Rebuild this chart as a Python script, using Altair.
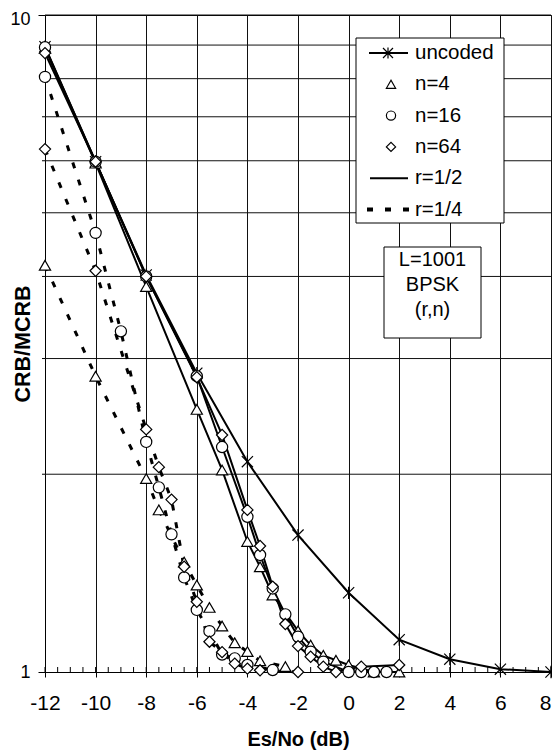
import altair as alt
import pandas as pd

W, H = 506, 657

# ---------------- data ----------------
unc_x = [-12, -10, -8, -6, -4, -2, 0, 2, 4, 6, 8]
unc_y = [8.95, 5.98, 4.02, 2.85, 2.09, 1.616, 1.32, 1.12, 1.046, 1.01, 1.0]

r2_n4_x = [-12, -10, -8, -6, -5, -4, -3.5, -3, -2, -1.5, -1, -0.5, 0, 1, 2]
r2_n4_y = [8.9, 5.95, 3.86, 2.51, 2.03, 1.58, 1.446, 1.31, 1.155, 1.099, 1.06, 1.042, 1.025, 1.0, 1.0]

r2_n16_x = [-12, -10, -8, -6, -5, -4, -3.5, -3, -2.5, -2, -1.5, -1, 0, 0.5, 1, 1.5]
r2_n16_y = [8.93, 5.98, 4.0, 2.82, 2.20, 1.723, 1.507, 1.34, 1.224, 1.132, 1.074, 1.037, 1.0, 1.0, 1.0, 1.0]

r2_n64_x = [-12, -10, -8, -6, -5, -4, -3.5, -3, -2.5, -2, -1.5, -1, -0.5, 0.5, 2]
r2_n64_y = [8.75, 5.98, 4.0, 2.81, 2.295, 1.765, 1.555, 1.349, 1.183, 1.095, 1.055, 1.019, 1.0, 1.019, 1.025]

r4_n4_x = [-12, -10, -8, -7.5, -6.5, -6, -5.5, -5, -4.5, -4, -3.5, -2.5]
r4_n4_y = [4.16, 2.82, 1.97, 1.765, 1.47, 1.356, 1.254, 1.175, 1.108, 1.074, 1.04, 1.019]

r4_n16_x = [-12, -10, -9, -8, -7.5, -7, -6.5, -6, -5.5, -5, -4.5, -4, -3]
r4_n16_y = [8.05, 4.66, 3.30, 2.24, 1.91, 1.62, 1.393, 1.243, 1.154, 1.063, 1.049, 1.025, 1.007]

r4_n64_x = [-12, -10, -8, -7.5, -7, -6.5, -6, -5.5, -5, -4.5, -4, -3.5, -2]
r4_n64_y = [6.25, 4.08, 2.34, 2.05, 1.83, 1.446, 1.279, 1.112, 1.072, 1.03, 1.012, 1.006, 1.0]

x_major = [-12, -10, -8, -6, -4, -2, 0, 2, 4, 6, 8]
x_minor = [v / 2 for v in range(-24, 17)]
y_labels = [1, 10]
y_grid = [2, 3, 4, 5, 6, 7, 8, 9, 10]
y_minor = [2, 3, 4, 5, 6, 7, 8, 9]

legend_labels = ["uncoded", "n=4", "n=16", "n=64", "r=1/2", "r=1/4"]
box_lines = ["L=1001", "BPSK", "(r,n)"]

series = [
    ("uncoded", "u", "u", unc_x, unc_y),
    ("r2n4", "1/2", "4", r2_n4_x, r2_n4_y),
    ("r2n16", "1/2", "16", r2_n16_x, r2_n16_y),
    ("r2n64", "1/2", "64", r2_n64_x, r2_n64_y),
    ("r4n4", "1/4", "4", r4_n4_x, r4_n4_y),
    ("r4n16", "1/4", "16", r4_n16_x, r4_n16_y),
    ("r4n64", "1/4", "64", r4_n64_x, r4_n64_y),
]
rows = []
for name, r, n, xs, ys in series:
    for xv, yv in zip(xs, ys):
        rows.append({"series": name, "r": r, "n": n, "x": xv, "y": yv})
df = pd.DataFrame(rows)

STAR = "M-1,-1L1,1M-1,1L1,-1M0,-1.1L0,1.1"
FONT = "Liberation Sans"
GRID = "#111"

xscale = alt.Scale(domain=[-12, 8], nice=False, zero=False)
yscale = alt.Scale(type="log", domain=[1, 10], nice=False)

X = alt.X("x:Q", scale=xscale, axis=alt.Axis(
    values=x_major, grid=True, gridColor=GRID, gridWidth=1, tickSize=5,
    tickColor="black", domainColor="black", labelFontSize=21, labelColor="black",
    labelBaseline="alphabetic", labelPadding=32, labelExpr="'' + datum.value",
    labelAlign={"condition": {"test": "datum.value == 8", "value": "right"}, "value": "center"},
    labelFlush=False, title="Es/No (dB)", titleFontSize=20, titleFontWeight="bold",
    titleColor="black", titleX=W / 2, titleY=73, titleBaseline="alphabetic"))
Y = alt.Y("y:Q", scale=yscale, axis=alt.Axis(
    values=y_labels, grid=False, tickSize=7, tickColor="black", domainColor="black",
    labelFontSize=18, labelColor="black", labelPadding=8, labelExpr="'' + datum.value",
    labelBaseline="alphabetic",
    labelOffset={"condition": {"test": "datum.value == 10", "value": 9.5}, "value": 5},
    labelFlush=False, title="CRB/MCRB", titleFontSize=21.5, titleFontWeight="bold",
    titleColor="black", titleX=-16, titleY=H / 2, titleBaseline="alphabetic"))

base = alt.Chart(df)

hgrid = alt.Chart(pd.DataFrame({"y": y_grid})).mark_rule(color=GRID, strokeWidth=1).encode(
    y=alt.Y("y:Q", scale=yscale), x=alt.value(0), x2=alt.value(W))
yminor = alt.Chart(pd.DataFrame({"y": y_minor})).mark_rule(color="black", strokeWidth=1).encode(
    y=alt.Y("y:Q", scale=yscale), x=alt.value(-3), x2=alt.value(0))
xminor = alt.Chart(pd.DataFrame({"x": x_minor})).mark_rule(color="black", strokeWidth=1).encode(
    x=alt.X("x:Q", scale=xscale), y=alt.value(H - 5), y2=alt.value(H))

line_unc = base.transform_filter("datum.r == 'u'").mark_line(color="black", strokeWidth=2).encode(
    x=X, y=Y, detail="series:N")
line_r2 = base.transform_filter("datum.r == '1/2'").mark_line(color="black", strokeWidth=2).encode(
    x=alt.X("x:Q", scale=xscale), y=alt.Y("y:Q", scale=yscale), detail="series:N")
line_r4 = base.transform_filter("datum.r == '1/4'").mark_line(
    color="black", strokeWidth=3, strokeDash=[6, 12]).encode(
    x=alt.X("x:Q", scale=xscale), y=alt.Y("y:Q", scale=yscale), detail="series:N")

pts = base.mark_point(filled=True, fill="white", stroke="black", strokeWidth=1.2,
                      size=125, opacity=1).encode(
    x=alt.X("x:Q", scale=xscale), y=alt.Y("y:Q", scale=yscale),
    shape=alt.Shape("n:N", scale=alt.Scale(domain=["u", "4", "16", "64"],
                                            range=[STAR, "triangle-up", "circle", "diamond"]),
                    legend=None))

one = pd.DataFrame({"a": [0]})
legend_layers = [
    alt.Chart(one).mark_rect(fill="white", stroke="black", strokeWidth=1).encode(
        x=alt.value(311), x2=alt.value(459), y=alt.value(23), y2=alt.value(208)),
    alt.Chart(one).mark_rect(fill="white", stroke="black", strokeWidth=1).encode(
        x=alt.value(339), x2=alt.value(436), y=alt.value(232), y2=alt.value(323)),
]
ly0, ldy = 38, 31.3
legend_layers.append(alt.Chart(one).mark_rule(color="black", strokeWidth=2).encode(
    x=alt.value(324), x2=alt.value(363), y=alt.value(ly0)))
legend_layers.append(alt.Chart(one).mark_point(shape=STAR, stroke="black", strokeWidth=1.2,
                                               size=100, opacity=1).encode(
    x=alt.value(343), y=alt.value(ly0)))
for i, shp in [(1, "triangle-up"), (2, "circle"), (3, "diamond")]:
    legend_layers.append(alt.Chart(one).mark_point(shape=shp, filled=True, fill="white",
                                                   stroke="black", strokeWidth=1.2,
                                                   size=85, opacity=1).encode(
        x=alt.value(346), y=alt.value(ly0 + i * ldy)))
legend_layers.append(alt.Chart(one).mark_rule(color="black", strokeWidth=2).encode(
    x=alt.value(325), x2=alt.value(363), y=alt.value(ly0 + 4 * ldy)))
legend_layers.append(alt.Chart(one).mark_rule(color="black", strokeWidth=4, strokeDash=[6, 12]).encode(
    x=alt.value(322), x2=alt.value(368), y=alt.value(ly0 + 5 * ldy)))
for i, lab in enumerate(legend_labels):
    legend_layers.append(alt.Chart(one).mark_text(
        text=lab, align="left", baseline="middle", fontSize=20.5, font=FONT, color="black").encode(
        x=alt.value(370), y=alt.value(ly0 + i * ldy)))
for i, lab in enumerate(box_lines):
    legend_layers.append(alt.Chart(one).mark_text(
        text=lab, align="center", baseline="middle", fontSize=20, font=FONT, color="black").encode(
        x=alt.value(387.5), y=alt.value(245 + i * 25)))

chart = alt.layer(line_unc, hgrid, yminor, xminor, line_r2, line_r4, pts, *legend_layers).properties(
    width=W, height=H,
    autosize=alt.AutoSizeParams(type="none"),
    padding={"left": 37, "top": 7, "right": 1, "bottom": 78},
).configure(font=FONT).configure_view(stroke="black", strokeWidth=1)

chart.save("out.html", embed_options={"renderer": "svg", "actions": False})
